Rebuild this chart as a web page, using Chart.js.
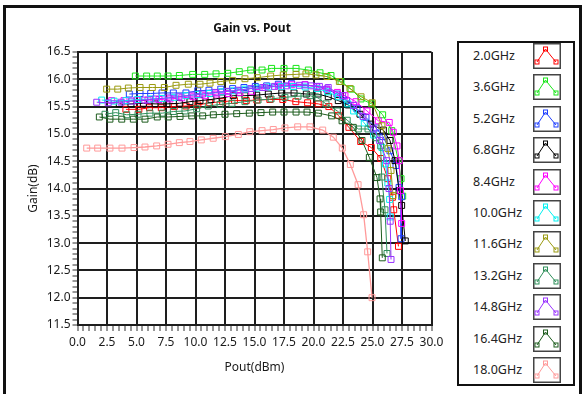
<!DOCTYPE html>
<html><head><meta charset="utf-8">
<script src="https://cdn.jsdelivr.net/npm/chart.js@4/dist/chart.umd.min.js"></script>
<style>
html,body{margin:0;padding:0;background:#fff;}
#wrap{position:relative;width:584px;height:394px;overflow:hidden;font-family:"Noto Sans",sans-serif;color:#1a1a1a;}
#frame{position:absolute;left:3px;top:5px;width:573px;height:400px;border:3px solid #111;border-bottom:none;}
#c{position:absolute;left:0;top:0;}
#title{position:absolute;top:19px;left:152px;width:200px;text-align:center;font-weight:bold;font-size:12px;color:#111;}
#legend{position:absolute;left:457px;top:41px;width:114px;height:341px;border:2px solid #111;background:#fff;}
.item{position:absolute;left:0;width:114px;height:26px;}
.item span{position:absolute;left:14px;top:3px;font-size:12.5px;line-height:20px;color:#222;}
.item svg{position:absolute;left:74px;top:0;}
</style></head>
<body><div id="wrap">
<div id="frame"></div>
<canvas id="c" width="584" height="394"></canvas>
<div id="title">Gain vs. Pout</div>
<div id="legend"></div>
</div>
<script>
// ---- data ----
const seriesNames = ['2.0GHz','3.6GHz','5.2GHz','6.8GHz','8.4GHz','10.0GHz','11.6GHz','13.2GHz','14.8GHz','16.4GHz','18.0GHz'];

const pout_2_0 = [4.1,5.2,6.1,7.1,8.2,9.2,10.2,11.2,12.3,13.3,14.3,15.2,16.3,17.4,18.5,19.5,20.4,21.3,22.1,23.0,24.0,24.9,25.7,26.3,26.7,26.8,27.2];
const gain_2_0 = [15.45,15.45,15.48,15.48,15.5,15.51,15.53,15.57,15.59,15.61,15.61,15.62,15.63,15.63,15.59,15.57,15.55,15.5,15.34,15.12,14.86,14.75,14.55,14.18,13.84,13.61,12.94];

const pout_3_6 = [4.9,5.86,6.76,7.67,8.63,9.76,10.78,11.74,12.73,13.71,14.68,15.64,16.45,17.5,18.52,19.56,20.55,21.48,22.33,23.18,24.03,24.93,25.86,26.63,27.19,27.42,27.56];
const gain_3_6 = [16.06,16.06,16.06,16.06,16.07,16.09,16.09,16.1,16.11,16.14,16.17,16.17,16.2,16.2,16.2,16.17,16.12,16.07,15.96,15.82,15.64,15.55,15.35,15.06,14.51,14.18,13.86];

const pout_5_2 = [4.39,5.3,6.2,7.16,8.12,9.19,10.19,11.14,12.14,13.15,14.11,15.07,16.03,17.02,18.15,19.28,20.27,21.14,21.99,22.81,23.69,24.45,25.3,25.89,26.48,26.99,27.25,27.47,27.42];
const gain_5_2 = [15.73,15.74,15.74,15.75,15.75,15.75,15.79,15.8,15.82,15.83,15.85,15.87,15.88,15.91,15.92,15.9,15.87,15.82,15.73,15.61,15.46,15.3,15.11,14.95,14.69,14.42,14.02,13.85,13.08];

const pout_6_8 = [3.54,4.53,5.58,6.57,7.58,8.63,9.53,10.38,11.31,12.25,13.2,14.19,15.19,16.17,17.31,18.35,19.39,20.38,21.25,22.1,22.95,23.94,24.85,25.92,26.48,26.91,27.25,27.47,27.78];
const gain_6_8 = [15.55,15.55,15.56,15.55,15.55,15.56,15.59,15.61,15.63,15.66,15.7,15.7,15.71,15.73,15.75,15.75,15.73,15.73,15.68,15.61,15.53,15.36,15.18,15.07,14.88,14.51,13.96,13.69,13.04];

const pout_8_4 = [2.9,3.94,5.02,5.97,6.91,7.84,8.83,9.81,10.81,11.8,12.78,13.77,14.76,15.89,17.02,18.15,19.28,20.27,21.12,22.02,22.67,23.6,24.53,25.49,26.42,26.76,27.08,27.27,27.37,27.47];
const gain_8_4 = [15.61,15.61,15.62,15.62,15.63,15.64,15.66,15.68,15.7,15.73,15.74,15.76,15.78,15.85,15.88,15.9,15.9,15.86,15.82,15.76,15.7,15.59,15.42,15.24,15.21,15.03,14.78,14.51,13.96,13.36];

const pout_10_0 = [2.05,3.1,4.1,5.1,6.2,7.2,8.2,9.2,10.2,11.2,12.2,13.2,14.2,15.2,16.2,17.3,18.3,19.3,20.3,21.2,22.1,22.9,23.4,24.3,25.1,25.8,26.1,26.3,26.45,26.5];
const gain_10_0 = [15.62,15.6,15.61,15.63,15.64,15.65,15.67,15.7,15.72,15.74,15.77,15.79,15.82,15.84,15.86,15.87,15.87,15.86,15.83,15.77,15.68,15.55,15.42,15.2,14.98,14.75,14.45,14.1,13.8,13.48];

const pout_11_6 = [2.47,3.41,4.31,5.3,6.34,7.36,8.35,9.39,10.38,11.23,12.14,13.15,14.19,15.24,16.37,17.44,18.52,19.36,20.21,21.14,22.19,23.09,24.03,24.98,25.8,26.31,26.57,26.74];
const gain_11_6 = [15.82,15.82,15.84,15.85,15.85,15.85,15.89,15.91,15.91,15.93,15.96,15.98,16.01,16.03,16.06,16.08,16.09,16.1,16.08,16.05,15.96,15.83,15.68,15.57,15.15,14.73,14.33,13.87];

const pout_13_2 = [2.33,3.24,4.17,5.13,6.14,7.19,8.12,9.11,10.1,11.08,12.08,13.09,14.19,15.3,16.4,17.58,18.69,19.7,20.38,21.06,22.02,22.86,23.8,24.62,25.3,25.69,25.78,26.06,26.23];
const gain_13_2 = [15.36,15.39,15.35,15.36,15.38,15.38,15.41,15.42,15.46,15.51,15.54,15.56,15.59,15.62,15.64,15.67,15.69,15.7,15.66,15.55,15.42,15.25,15.09,15.09,14.93,14.78,14.21,13.61,12.81];

const pout_14_8 = [1.63,2.6,3.7,4.6,5.7,6.6,7.7,8.6,9.7,10.6,11.7,12.7,13.6,14.7,15.7,16.7,17.7,18.8,19.8,20.5,21.25,22.47,23.4,24.2,25.07,25.6,26.2,26.4,26.5,26.57];
const gain_14_8 = [15.58,15.57,15.58,15.6,15.62,15.64,15.66,15.68,15.71,15.73,15.76,15.78,15.8,15.83,15.85,15.87,15.88,15.89,15.88,15.87,15.85,15.7,15.52,15.32,15.09,14.88,14.51,14.0,13.4,12.7];

const pout_16_4 = [1.85,2.75,3.75,4.73,5.72,6.76,7.69,8.69,9.68,10.61,11.51,12.5,13.49,14.56,15.55,16.54,17.5,18.52,19.45,20.41,21.54,22.42,23.37,24.11,24.73,25.38,25.64,25.69,25.83];
const gain_16_4 = [15.31,15.27,15.27,15.27,15.27,15.31,15.31,15.32,15.33,15.33,15.35,15.36,15.37,15.38,15.39,15.4,15.4,15.4,15.4,15.38,15.33,15.24,15.12,14.88,14.57,14.2,13.81,13.57,12.73];

const pout_18_0 = [0.78,1.71,2.75,3.77,4.79,5.72,6.71,7.67,8.63,9.53,10.49,11.5,12.53,13.63,14.6,15.64,16.59,17.58,18.66,19.7,20.78,21.68,22.44,23.12,23.78,24.25,24.59,24.96];
const gain_18_0 = [14.74,14.74,14.74,14.74,14.75,14.76,14.78,14.81,14.84,14.86,14.89,14.92,14.95,14.99,15.04,15.06,15.08,15.11,15.13,15.13,15.07,14.94,14.74,14.44,14.07,13.52,12.84,12.0];

const xTickValues = [0,2.5,5,7.5,10,12.5,15,17.5,20,22.5,25,27.5,30];
const yTickValues = [11.5,12,12.5,13,13.5,14,14.5,15,15.5,16,16.5];

// ---- styles ----
const seriesColors = ['#ff0000','#19e619','#1f3fff','#000000','#ff00ff','#00f0f0','#9a9a10','#2f8f5a','#9933ff','#1d5c1d','#ff9a9a'];
const allPout = [pout_2_0,pout_3_6,pout_5_2,pout_6_8,pout_8_4,pout_10_0,pout_11_6,pout_13_2,pout_14_8,pout_16_4,pout_18_0];
const allGain = [gain_2_0,gain_3_6,gain_5_2,gain_6_8,gain_8_4,gain_10_0,gain_11_6,gain_13_2,gain_14_8,gain_16_4,gain_18_0];

const datasets = seriesNames.map((name,i)=>({
  label: name,
  data: allPout[i].map((x,j)=>({x:x, y:allGain[i][j]})),
  borderColor: seriesColors[i],
  backgroundColor: 'rgba(0,0,0,0)',
  borderWidth: i===10 ? 1.3 : 1,
  pointStyle: 'rect',
  pointRadius: 4.2,
  pointBorderWidth: 1,
  pointBackgroundColor: 'rgba(0,0,0,0)',
  pointBorderColor: seriesColors[i],
  tension: 0,
  order: 10 - i
}));

const isMajor = (v, step) => Math.abs(v/step - Math.round(v/step)) < 1e-6;
const fmt = v => v.toFixed(1);
const tickFont = {family:'"Noto Sans", sans-serif', size:12};

new Chart(document.getElementById('c'), {
  type: 'line',
  data: { datasets },
  options: {
    responsive: false,
    devicePixelRatio: 1,
    animation: false,
    events: [],
    layout: { padding: { left: 10, right: 152.5, top: 52, bottom: 9 } },
    plugins: { legend: {display:false}, tooltip: {enabled:false}, title: {display:false} },
    scales: {
      x: {
        type: 'linear', min: 0, max: 30,
        afterFit: s => { s.height = 60; },
        ticks: {
          stepSize: 0.5, autoSkip: false, maxRotation: 0, padding: 4,
          color: '#1a1a1a', font: tickFont,
          callback: v => xTickValues.some(t => Math.abs(t - v) < 1e-6) ? fmt(v) : ''
        },
        grid: {
          color: c => isMajor(c.tick.value, 2.5) ? '#1e1e1e' : 'rgba(0,0,0,0)',
          lineWidth: c => isMajor(c.tick.value, 2.5) ? 2 : 0,
          tickColor: '#333', tickWidth: 1, tickLength: 6
        },
        border: { display: true, color: '#1e1e1e', width: 2 },
        title: { display: true, text: 'Pout(dBm)', color: '#1a1a1a', font: tickFont, padding: { top: 0, bottom: 10 } }
      },
      y: {
        type: 'linear', min: 11.5, max: 16.5,
        afterFit: s => { s.width = 67.5; },
        ticks: {
          stepSize: 0.1, autoSkip: false, padding: 2,
          color: '#1a1a1a', font: tickFont,
          callback: v => yTickValues.some(t => Math.abs(t - v) < 1e-6) ? fmt(v) : ''
        },
        grid: {
          color: c => isMajor(c.tick.value, 0.5) ? '#1e1e1e' : 'rgba(0,0,0,0)',
          lineWidth: c => isMajor(c.tick.value, 0.5) ? 2 : 0,
          tickColor: '#333', tickWidth: 1, tickLength: 5
        },
        border: { display: true, color: '#1e1e1e', width: 2 },
        title: { display: true, text: 'Gain(dB)', color: '#1a1a1a', font: tickFont, padding: { top: 16, bottom: 0 } }
      }
    }
  }
});

// ---- HTML legend ----
const leg = document.getElementById('legend');
seriesNames.forEach((name,i)=>{
  const c = seriesColors[i];
  const d = document.createElement('div');
  d.className = 'item';
  d.style.top = (i*31.4) + 'px';
  d.innerHTML = '<span>'+name+'</span>' +
    '<svg width="28" height="26" viewBox="0 0 28 26">' +
    '<rect x="0.75" y="0.75" width="26.5" height="24.5" fill="#fff" stroke="#444" stroke-width="1.5"/>' +
    '<polyline points="4,19 12.5,6 18,13 23,19" fill="none" stroke="'+c+'" stroke-width="1"/>' +
    '<rect x="2" y="17" width="4" height="4" fill="none" stroke="'+c+'" stroke-width="1"/>' +
    '<rect x="10.5" y="4" width="4" height="4" fill="none" stroke="'+c+'" stroke-width="1"/>' +
    '<rect x="21" y="17" width="4" height="4" fill="none" stroke="'+c+'" stroke-width="1"/>' +
    '</svg>';
  leg.appendChild(d);
});
</script>
</body></html>
